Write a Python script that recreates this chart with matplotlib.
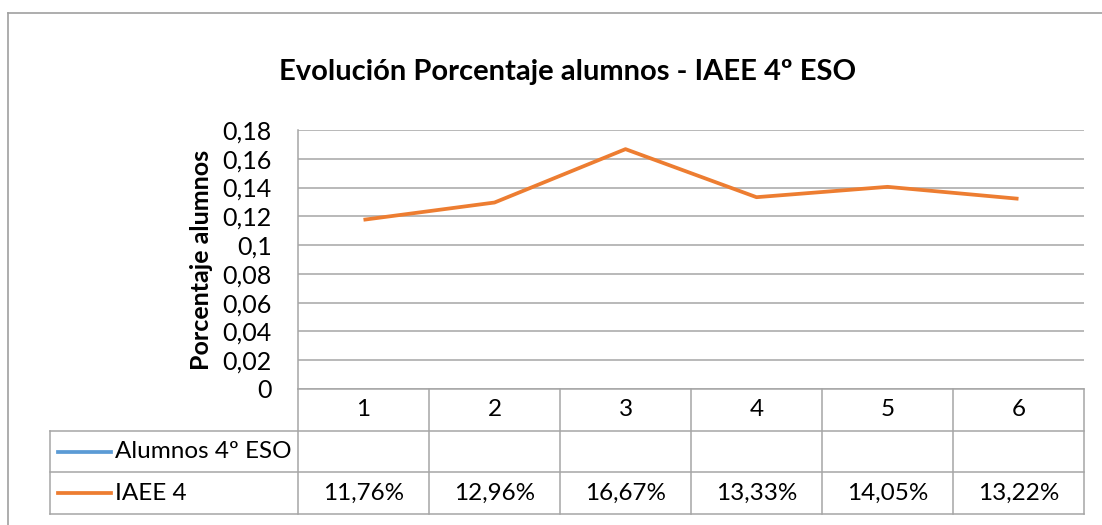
import numpy as np
import matplotlib
matplotlib.use("Agg")
import matplotlib.pyplot as plt
from matplotlib.lines import Line2D
from matplotlib.transforms import blended_transform_factory

plt.rcParams['font.family'] = ['Lato', 'DejaVu Sans']

categorias = ['1', '2', '3', '4', '5', '6']
alumnos_4eso = [None, None, None, None, None, None]
iaee4 = [0.1176, 0.1296, 0.1667, 0.1333, 0.1405, 0.1322]
series = ['Alumnos 4º ESO', 'IAEE 4']
colores = ['#5B9BD5', '#ED7D31']
yticks = np.arange(0, 0.181, 0.02)

W, H = 1102, 525
fig = plt.figure(figsize=(W / 100, H / 100), dpi=100)

# marco exterior del gráfico (solo se ve arriba e izquierda)
fig.add_artist(Line2D([8 / W, 8 / W], [0, 1 - 13 / H], color='#A0A0A0', lw=1.2))
fig.add_artist(Line2D([8 / W, 1], [1 - 13 / H, 1 - 13 / H], color='#A0A0A0', lw=1.2))

left, right, top, bottom = 298, 1084, 130, 389
ax = fig.add_axes([left / W, 1 - bottom / H, (right - left) / W, (bottom - top) / H])

x = np.arange(len(categorias))
ax.plot(x, iaee4, color=colores[1], lw=2.7, solid_capstyle='butt')
ax.set_xlim(-0.5, len(categorias) - 0.5)
ax.set_ylim(0, 0.18)
ax.set_yticks(yticks)
ax.set_yticklabels([('%g' % round(v, 2)).replace('.', ',') for v in yticks], fontsize=18)
ax.set_xticks([])
ax.tick_params(axis='y', length=0, pad=19)
ax.grid(axis='y', color='#A6A6A6', lw=1.1)
ax.set_axisbelow(True)
for s in ['top', 'right', 'bottom']:
    ax.spines[s].set_visible(False)
ax.spines['left'].set_color('#A6A6A6')
ax.spines['left'].set_linewidth(1.1)
ax.set_ylabel('Porcentaje alumnos', fontsize=18, fontweight='bold', labelpad=7)

# tabla de datos
tr = blended_transform_factory(ax.transData, ax.transAxes)
row_h = 41.7 / (bottom - top)
colw = (right - left) / 6
leg_x0 = -0.5 - (left - 50) / colw
gc = '#A6A6A6'
n = len(categorias)

def hline(x0, x1, y):
    ax.add_line(Line2D([x0, x1], [y, y], transform=tr, color=gc, lw=1.1, clip_on=False))

def vline(xv, y0, y1):
    ax.add_line(Line2D([xv, xv], [y0, y1], transform=tr, color=gc, lw=1.1, clip_on=False))

hline(-0.5, n - 0.5, 0)
hline(leg_x0, n - 0.5, -row_h)
hline(leg_x0, n - 0.5, -2 * row_h)
hline(leg_x0, n - 0.5, -3 * row_h)
for i in range(n + 1):
    vline(i - 0.5, 0, -3 * row_h)
vline(leg_x0, -row_h, -3 * row_h)

for i, c in enumerate(categorias):
    ax.text(i, -0.5 * row_h, c, transform=tr, ha='center', va='center', fontsize=17.5)
    if iaee4[i] is not None:
        ax.text(i, -2.5 * row_h, ('%.2f%%' % (iaee4[i] * 100)).replace('.', ','),
                transform=tr, ha='center', va='center', fontsize=17.5)

x_ini = leg_x0 + 8 / colw
seg = 53 / colw
for k, (nombre, col) in enumerate(zip(series, colores)):
    yc = -(1.5 + k) * row_h
    ax.add_line(Line2D([x_ini, x_ini + seg], [yc, yc], transform=tr,
                       color=col, lw=2.7, clip_on=False))
    ax.text(x_ini + seg + 4 / colw, yc, nombre, transform=tr, ha='left', va='center',
            fontsize=17.5)

fig.text(568 / W, 1 - 72 / H, 'Evolución Porcentaje alumnos - IAEE 4º ESO',
         ha='center', va='center', fontsize=21, fontweight='bold')

fig.savefig('out.png', dpi=100)
